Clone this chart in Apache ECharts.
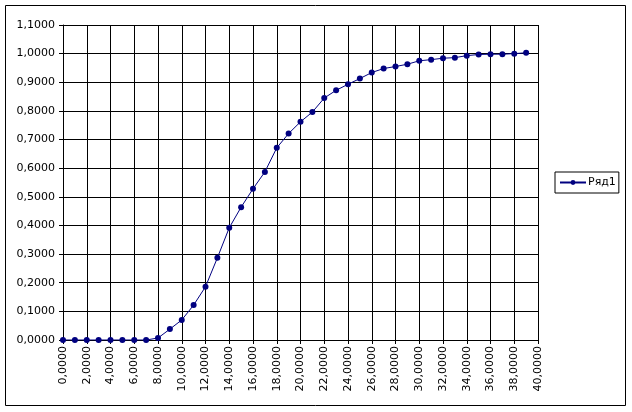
<!DOCTYPE html>
<html>
<head>
<meta charset="utf-8">
<script src="https://cdn.jsdelivr.net/npm/echarts@6/dist/echarts.min.js"></script>
<style>
html,body{margin:0;padding:0;background:#fff;}
#c{width:632px;height:412px;}
</style>
</head>
<body>
<div id="c"></div>
<script>
var seriesName = 'Ряд1';
var xValues = [0,1,2,3,4,5,6,7,8,9,10,11,12,13,14,15,16,17,18,19,20,21,22,23,24,25,26,27,28,29,30,31,32,33,34,35,36,37,38,39];
var yValues = [0,0,0,0,0,0,0,0,0.007,0.038,0.070,0.122,0.186,0.287,0.392,0.464,0.528,0.587,0.671,0.721,0.762,0.796,0.845,0.872,0.893,0.913,0.934,0.948,0.955,0.963,0.975,0.979,0.984,0.986,0.993,0.997,0.998,0.998,1.000,1.003];
var xAxisMin = 0, xAxisMax = 40, xAxisStep = 2;
var yAxisMin = 0, yAxisMax = 1.1, yAxisStep = 0.1;

function fmt(v){ return Number(v).toFixed(4).replace('.', ','); }

var pts = xValues.map(function(x,i){ return [x, yValues[i]]; });
var chart = echarts.init(document.getElementById('c'), null, {renderer:'canvas'});
var font = 'DejaVu Sans';
chart.setOption({
  animation:false,
  backgroundColor:'#fff',
  textStyle:{fontFamily:font},
  graphic:[{type:'rect', shape:{x:5.5,y:5.5,width:620,height:400}, style:{fill:'none', stroke:'#000', lineWidth:1}, silent:true, z:-1}],
  grid:{left:63, right:94, top:25, bottom:72, containLabel:false},
  legend:{
    left:555, top:172, orient:'vertical',
    borderColor:'#000', borderWidth:1, padding:[5,3,5,4],
    itemWidth:26, itemHeight:6, itemGap:0,
    textStyle:{fontFamily:font, fontSize:11, color:'#000', padding:[0,0,0,-3]},
    data:[{name:seriesName}]
  },
  xAxis:{
    type:'value', min:xAxisMin, max:xAxisMax, interval:xAxisStep,
    axisLine:{show:true, onZero:false, lineStyle:{color:'#000', width:1}},
    axisTick:{show:true, length:4, lineStyle:{color:'#000'}},
    axisLabel:{rotate:90, fontFamily:font, fontSize:11, color:'#000', margin:6, formatter:fmt},
    splitLine:{show:true, lineStyle:{color:'#000', width:1}}
  },
  yAxis:{
    type:'value', min:yAxisMin, max:yAxisMax, interval:yAxisStep,
    axisLine:{show:true, lineStyle:{color:'#000', width:1}},
    axisTick:{show:true, length:4, lineStyle:{color:'#000'}},
    axisLabel:{fontFamily:font, fontSize:11, color:'#000', margin:8, formatter:fmt},
    splitLine:{show:true, lineStyle:{color:'#000', width:1}}
  },
  series:[{
    name:seriesName, type:'line', data:pts,
    symbol:'circle', symbolSize:6, showSymbol:true,
    lineStyle:{color:'#000080', width:1},
    itemStyle:{color:'#000080'},
    z:5
  }]
});
</script>
</body>
</html>
